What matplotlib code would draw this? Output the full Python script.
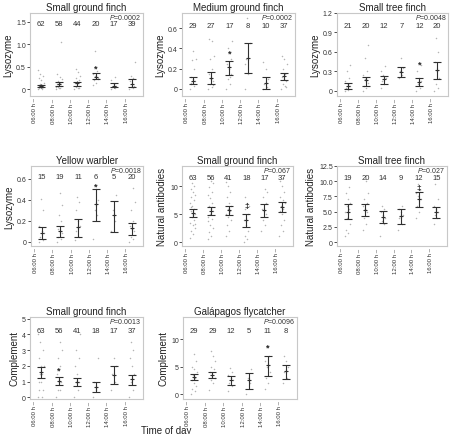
import numpy as np
import matplotlib
matplotlib.use("Agg")
import matplotlib.pyplot as plt
import matplotlib.transforms as mtransforms

plt.rcParams["font.family"] = ["Liberation Sans", "DejaVu Sans"]
plt.rcParams["mathtext.fontset"] = "custom"
plt.rcParams["mathtext.it"] = "Liberation Sans:italic"
plt.rcParams["mathtext.rm"] = "Liberation Sans"

times = ["06:00 h –", "08:00 h –", "10:00 h –", "12:00 h –", "14:00 h –", "16:00 h –"]

# --- lysozyme, small ground finch
sgf_lys_n = [62, 58, 44, 20, 17, 39]
sgf_lys_mean = [0.07, 0.12, 0.13, 0.28, 0.08, 0.12]
sgf_lys_lo = [0.04, 0.08, 0.08, 0.22, 0.04, 0.05]
sgf_lys_hi = [0.10, 0.17, 0.17, 0.36, 0.13, 0.22]
sgf_lys_pts = [
    [0.0, 0.02, 0.03, 0.05, 0.06, 0.08, 0.1, 0.12, 0.15, 0.2, 0.25, 0.3, 0.35, 0.42, 0.0, 0.04, 0.07],
    [0.0, 0.02, 0.05, 0.08, 0.1, 0.12, 0.15, 0.18, 0.22, 0.28, 0.35, 1.05, 0.03, 0.06],
    [0.0, 0.03, 0.05, 0.08, 0.12, 0.15, 0.2, 0.25, 0.3, 0.38, 0.45, 0.02],
    [0.1, 0.15, 0.2, 0.25, 0.3, 0.35, 0.4, 0.85, 0.22],
    [0.0, 0.03, 0.05, 0.08, 0.12, 0.2, 0.28],
    [0.0, 0.02, 0.05, 0.08, 0.12, 0.18, 0.25, 0.3, 0.6, 0.04],
]

# --- lysozyme, medium ground finch
mgf_lys_n = [29, 27, 17, 8, 10, 37]
mgf_lys_mean = [0.08, 0.11, 0.22, 0.31, 0.06, 0.13]
mgf_lys_lo = [0.05, 0.05, 0.14, 0.16, 0.0, 0.09]
mgf_lys_hi = [0.12, 0.17, 0.28, 0.45, 0.12, 0.16]
mgf_lys_pts = [
    [0.0, 0.03, 0.05, 0.08, 0.1, 0.12, 0.2, 0.29, 0.3, 0.37, 0.06],
    [0.0, 0.02, 0.05, 0.08, 0.1, 0.15, 0.2, 0.3, 0.33, 0.47, 0.49, 0.04],
    [0.0, 0.05, 0.1, 0.15, 0.2, 0.25, 0.3, 0.4, 0.47, 0.12],
    [0.0, 0.15, 0.3, 0.45, 0.7, 0.25],
    [0.0, 0.02, 0.05, 0.1, 0.2, 0.27],
    [0.0, 0.03, 0.05, 0.08, 0.1, 0.12, 0.15, 0.2, 0.25, 0.3, 0.33, 0.02],
]

# --- lysozyme, small tree finch
stf_lys_n = [21, 20, 12, 7, 12, 20]
stf_lys_mean = [0.07, 0.16, 0.18, 0.29, 0.14, 0.32]
stf_lys_lo = [0.03, 0.07, 0.11, 0.22, 0.07, 0.18]
stf_lys_hi = [0.12, 0.22, 0.23, 0.36, 0.19, 0.44]
stf_lys_pts = [
    [0.0, 0.02, 0.05, 0.08, 0.1, 0.15, 0.2, 0.3, 0.4],
    [0.0, 0.05, 0.08, 0.12, 0.18, 0.25, 0.3, 0.5, 0.7],
    [0.05, 0.1, 0.15, 0.2, 0.25, 0.3, 0.38],
    [0.2, 0.25, 0.3, 0.35, 0.5],
    [0.0, 0.05, 0.1, 0.15, 0.2, 0.3, 0.4],
    [0.0, 0.05, 0.1, 0.2, 0.3, 0.45, 0.6, 0.82],
]

# --- lysozyme, yellow warbler
yw_lys_n = [15, 19, 11, 6, 5, 20]
yw_lys_mean = [0.08, 0.10, 0.14, 0.36, 0.25, 0.13]
yw_lys_lo = [0.03, 0.05, 0.05, 0.20, 0.09, 0.06]
yw_lys_hi = [0.14, 0.15, 0.22, 0.50, 0.39, 0.18]
yw_lys_pts = [
    [0.0, 0.02, 0.05, 0.08, 0.1, 0.15, 0.3, 0.41],
    [0.0, 0.03, 0.05, 0.08, 0.1, 0.12, 0.2, 0.25, 0.35, 0.46],
    [0.02, 0.05, 0.1, 0.15, 0.2, 0.3, 0.38, 0.43],
    [0.03, 0.25, 0.3, 0.4, 0.5],
    [0.1, 0.2, 0.3, 0.44],
    [0.0, 0.03, 0.05, 0.1, 0.12, 0.15, 0.2, 0.3, 0.38, 0.51],
]

# --- natural antibodies, small ground finch
sgf_nab_n = [63, 56, 41, 18, 17, 37]
sgf_nab_mean = [5.2, 5.6, 5.7, 4.0, 5.7, 6.3]
sgf_nab_lo = [4.5, 4.8, 4.9, 2.7, 4.5, 5.4]
sgf_nab_hi = [5.9, 6.2, 6.4, 5.1, 6.8, 7.2]
sgf_nab_pts = [
    [0.8, 1.5, 2, 2.5, 3, 3.5, 4, 4.5, 5, 5, 5.5, 6, 6.5, 7, 7.5, 8, 8.5, 9, 9.5, 10, 10.5, 3.2, 4.8, 6.2],
    [0.5, 1, 1.8, 2.5, 3, 3.8, 4.2, 5, 5.5, 6, 6.5, 7, 7.8, 8.5, 9, 9.8, 10.5, 11, 4.5, 6.2],
    [1, 2, 3, 4, 4.5, 5, 5.5, 6, 6.5, 7, 8, 9, 10, 10.8, 5.2],
    [0, 0.5, 1, 2, 3, 4, 5, 6, 6.5, 7, 8],
    [2, 3, 4, 5, 5.5, 6, 7, 8, 9, 9.5],
    [1, 2, 3, 4, 5, 5.5, 6, 6.5, 7, 7.5, 8, 9, 10, 11, 11.5],
]

# --- natural antibodies, small tree finch
stf_nab_n = [19, 20, 14, 9, 12, 15]
stf_nab_mean = [5.0, 5.3, 4.1, 4.2, 7.0, 4.9]
stf_nab_lo = [3.8, 4.3, 3.1, 2.9, 5.8, 4.0]
stf_nab_hi = [6.2, 6.2, 5.1, 5.5, 8.2, 5.7]
stf_nab_pts = [
    [1, 1.5, 2, 3, 4, 5, 5.5, 6, 6.5, 7, 8, 9],
    [2, 3, 4, 5, 5.5, 6, 6.5, 7, 8, 10],
    [1, 3, 3.5, 4, 4.5, 5, 5.5, 6],
    [2, 3, 4, 4.5, 5, 5.5, 6],
    [4, 5, 6, 7, 7.5, 8, 8.5, 9.5],
    [3, 4, 4.5, 5, 5.5, 6, 7, 9.5],
]

# --- complement, small ground finch
sgf_com_n = [63, 56, 41, 18, 17, 37]
sgf_com_mean = [1.6, 1.05, 1.0, 0.65, 1.45, 1.2]
sgf_com_lo = [1.25, 0.8, 0.7, 0.35, 0.85, 0.8]
sgf_com_hi = [1.95, 1.3, 1.25, 0.95, 2.0, 1.45]
sgf_com_pts = [
    [0, 0, 0.5, 0.5, 1, 1, 1.5, 1.5, 2, 2, 2.5, 3, 3.5, 4],
    [0, 0.5, 0.5, 1, 1, 1.5, 2, 2.5, 3, 3.5],
    [0, 0.5, 1, 1, 1.5, 2, 2.5, 3, 4],
    [0, 0.5, 1, 2.5],
    [0.5, 1, 1.5, 2, 2.5],
    [0, 0.5, 1, 1.5, 2, 2.5, 3, 3.5],
]

# --- complement, Galapagos flycatcher
gf_com_n = [29, 29, 12, 5, 11, 8]
gf_com_mean = [3.1, 3.5, 2.6, 2.5, 5.2, 4.1]
gf_com_lo = [2.6, 2.9, 1.7, 1.0, 3.3, 2.8]
gf_com_hi = [3.6, 4.0, 3.3, 3.8, 7.0, 5.3]
gf_com_pts = [
    [0, 0.5, 1, 1.5, 2, 2.5, 3, 3.5, 4, 4.5, 5, 6, 7.2],
    [0.8, 2, 2.5, 3, 3.5, 4, 4.5, 5, 6, 7, 7.8],
    [0.5, 1.5, 2, 2.5, 3, 3.5, 4, 4.8],
    [0, 2, 3, 4.5],
    [1, 2, 3, 4, 5, 6, 7, 8.5],
    [2, 3, 4, 5, 6, 7],
]

panels = [
    dict(title="Small ground finch", ylabel="Lysozyme", p="0.0002", n=sgf_lys_n, mean=sgf_lys_mean,
         lo=sgf_lys_lo, hi=sgf_lys_hi, pts=sgf_lys_pts, ylim=(-0.15, 1.7), yt=[0, 0.5, 1.0, 1.5],
         ytl=["0", "0.5", "1.0", "1.5"], marks=[(3, 0.47, "*")], ny=0.87),
    dict(title="Medium ground finch", ylabel="Lysozyme", p="0.0002", n=mgf_lys_n, mean=mgf_lys_mean,
         lo=mgf_lys_lo, hi=mgf_lys_hi, pts=mgf_lys_pts, ylim=(-0.07, 0.75), yt=[0, 0.2, 0.4, 0.6],
         ytl=["0", "0.2", "0.4", "0.6"], marks=[(2, 0.35, "*")], ny=0.85),
    dict(title="Small tree finch", ylabel="Lysozyme", p="0.0048", n=stf_lys_n, mean=stf_lys_mean,
         lo=stf_lys_lo, hi=stf_lys_hi, pts=stf_lys_pts, ylim=(-0.08, 1.2), yt=[0, 0.3, 0.6, 0.9, 1.2],
         ytl=["0", "0.3", "0.6", "0.9", "1.2"], marks=[(4, 0.42, "*")], ny=0.85),
    dict(title="Yellow warbler", ylabel="Lysozyme", p="0.0018", n=yw_lys_n, mean=yw_lys_mean,
         lo=yw_lys_lo, hi=yw_lys_hi, pts=yw_lys_pts, ylim=(-0.04, 0.72), yt=[0, 0.2, 0.4, 0.6],
         ytl=["0", "0.2", "0.4", "0.6"], marks=[(3, 0.525, "*")], ny=0.87),
    dict(title="Small ground finch", ylabel="Natural antibodies", p="0.067", n=sgf_nab_n, mean=sgf_nab_mean,
         lo=sgf_nab_lo, hi=sgf_nab_hi, pts=sgf_nab_pts, ylim=(-0.7, 13.6), yt=[0, 5, 10],
         ytl=["0", "5", "10"], marks=[(3, 6.6, "‡")], ny=0.86),
    dict(title="Small tree finch", ylabel="Natural antibodies", p="0.027", n=stf_nab_n, mean=stf_nab_mean,
         lo=stf_nab_lo, hi=stf_nab_hi, pts=stf_nab_pts, ylim=(-0.65, 12.5), yt=[0, 2.5, 5, 7.5, 10, 12.5],
         ytl=["0", "2.5", "5.0", "7.5", "10.0", "12.5"], marks=[(4, 9.0, "‡")], ny=0.86),
    dict(title="Small ground finch", ylabel="Complement", p="0.0013", n=sgf_com_n, mean=sgf_com_mean,
         lo=sgf_com_lo, hi=sgf_com_hi, pts=sgf_com_pts, ylim=(-0.1, 5.1), yt=[0, 1, 2, 3, 4, 5],
         ytl=["0", "1", "2", "3", "4", "5"], marks=[(1, 1.75, "*")], ny=0.84),
    dict(title="Galápagos flycatcher", ylabel="Complement", p="0.0096", n=gf_com_n, mean=gf_com_mean,
         lo=gf_com_lo, hi=gf_com_hi, pts=gf_com_pts, ylim=(-0.9, 14), yt=[0, 5, 10],
         ytl=["0", "5", "10"], marks=[(4, 8.6, "*")], ny=0.84),
]

W, H = 460, 435
# axes boxes in pixels: left, top, right, bottom
boxes = [
    (30, 14, 143, 97), (182, 14, 295, 97), (337, 14, 448, 97),
    (31, 167, 143, 247), (182, 167, 293, 247), (337, 167, 447, 247),
    (30, 318, 143, 400), (183, 318, 297, 400),
]

fig = plt.figure(figsize=(4.6, 4.35), dpi=100)
pt_col = "#b4b4b4"
bar_col = "#303030"
txt_col = "#333333"
x = np.arange(6)

for pan, (l, t, r, b) in zip(panels, boxes):
    ax = fig.add_axes([l / W, 1 - b / H, (r - l) / W, (b - t) / H])
    blend = mtransforms.blended_transform_factory(ax.transData, ax.transAxes)
    for i, vals in enumerate(pan["pts"]):
        k = np.arange(len(vals))
        jit = ((k * 0.618) % 1 - 0.5) * 0.32
        ax.scatter(i + jit, vals, s=1.2, color=pt_col, marker="o", linewidths=0, zorder=1)
    mean = np.array(pan["mean"])
    err = [mean - np.array(pan["lo"]), np.array(pan["hi"]) - mean]
    ax.errorbar(x, mean, yerr=err, fmt="none", ecolor=bar_col, elinewidth=0.8,
                capsize=3, capthick=0.8, zorder=3)
    ax.plot(x, mean, "+", color=bar_col, markersize=3, mew=0.8, zorder=4)
    for i, nv in enumerate(pan["n"]):
        ax.text(i, pan["ny"], str(nv), transform=blend, ha="center", va="center",
                fontsize=5.5, color=txt_col)
    ax.text(0.985, 0.955, "$P$=" + pan["p"], transform=ax.transAxes, ha="right", va="center",
            fontsize=5, color=txt_col)
    for gi, yv, s in pan["marks"]:
        ax.text(gi, yv, s, ha="center", va="center", fontsize=6.5 if s == "*" else 6,
                color="#222222", fontweight="bold")
    ax.set_xlim(-0.6, 5.6)
    ax.set_ylim(*pan["ylim"])
    ax.set_yticks(pan["yt"])
    ax.set_yticklabels(pan["ytl"])
    ax.set_xticks(x - 0.33)
    ax.set_xticklabels(times, rotation=90, fontsize=4.3, color=txt_col, va="top")
    ax.tick_params(axis="x", length=0, pad=1)
    ax.tick_params(axis="y", length=2, width=0.6, pad=1, labelsize=5, colors=txt_col)
    for sp in ax.spines.values():
        sp.set_color("#c8c8c8")
        sp.set_linewidth(0.8)
    ax.set_title(pan["title"], fontsize=7, pad=2, color="#222222")
    ax.set_ylabel(pan["ylabel"], fontsize=7, labelpad=2, color="#222222")

fig.text(166 / W, 1 - 431 / H, "Time of day", ha="center", va="center", fontsize=7, color="#222222")

fig.savefig("out.png", dpi=100)
